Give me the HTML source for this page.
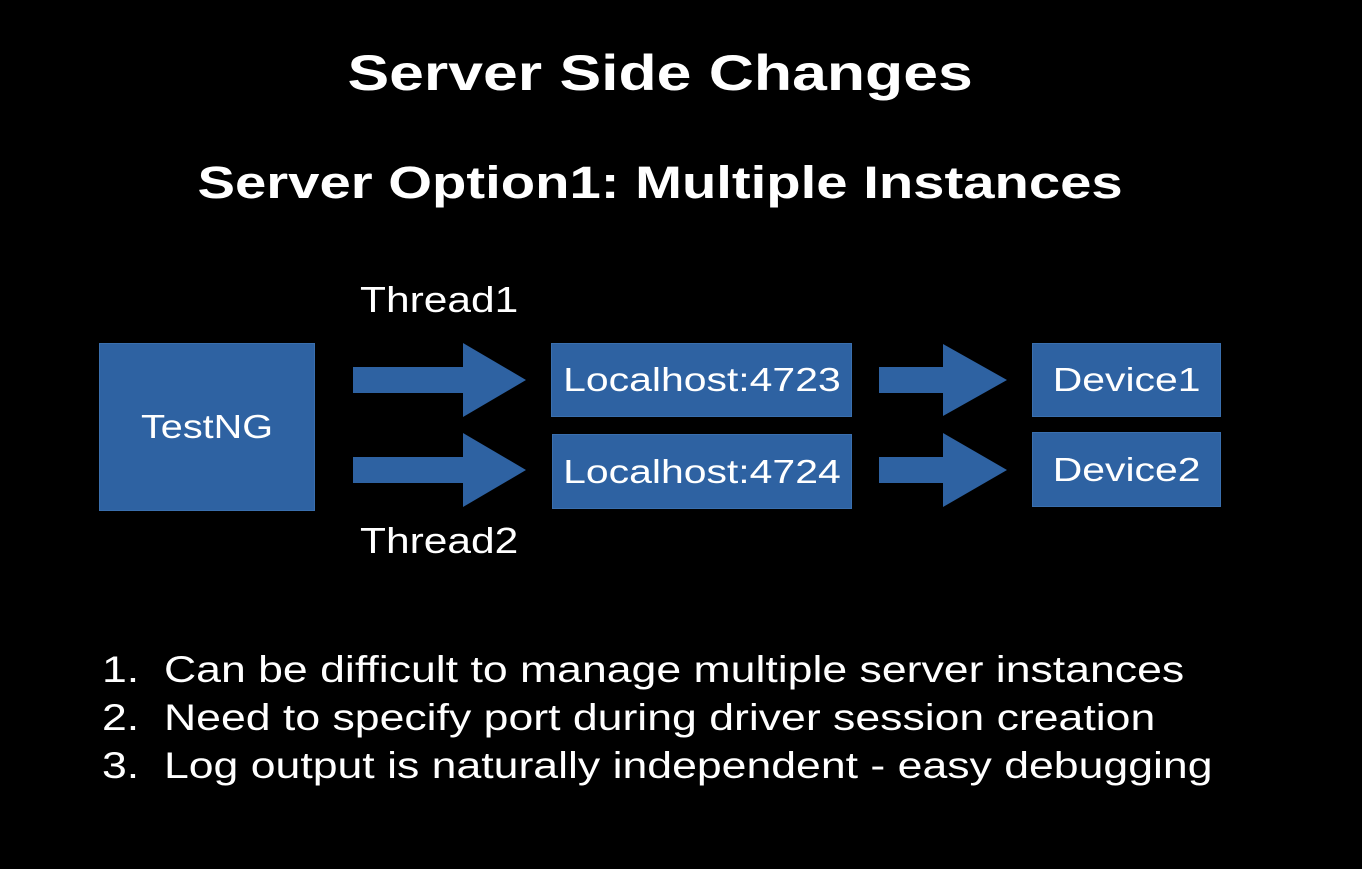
<!DOCTYPE html>
<html><head><style>
body{margin:0;width:1362px;height:869px;background:#000;position:relative;overflow:hidden;font-family:"Liberation Sans",sans-serif;color:#fff}
.t{position:absolute;white-space:nowrap}
.b{position:absolute;background:#2e62a2;box-shadow:0 0 0 1px #3a6fae;display:flex;align-items:center;justify-content:center;font-size:33px;color:#fff}
.s{display:inline-block;transform:scaleX(1.24)}
</style></head><body>
<div class="t" style="left:0;width:1320px;text-align:center;top:44px;font-size:50px;font-weight:bold"><span class="s" style="transform:scaleX(1.25)">Server Side Changes</span></div>
<div class="t" style="left:0;width:1320px;text-align:center;top:157px;font-size:45px;font-weight:bold"><span class="s" style="transform:scaleX(1.25)">Server Option1: Multiple Instances</span></div>
<div class="t" style="left:360px;top:279px;font-size:36px;transform-origin:0 0;transform:scaleX(1.18)">Thread1</div>
<div class="t" style="left:360px;top:520px;font-size:36px;transform-origin:0 0;transform:scaleX(1.18)">Thread2</div>
<div class="b" style="left:100px;top:344px;width:214px;height:166px"><span class="s" style="transform:scaleX(1.2)">TestNG</span></div>
<div class="b" style="left:552px;top:344px;width:299px;height:72px"><span class="s">Localhost:4723</span></div>
<div class="b" style="left:553px;top:435px;width:298px;height:73px"><span class="s">Localhost:4724</span></div>
<div class="b" style="left:1033px;top:344px;width:187px;height:72px"><span class="s">Device1</span></div>
<div class="b" style="left:1033px;top:433px;width:187px;height:73px"><span class="s">Device2</span></div>
<svg width="1362" height="869" style="position:absolute;left:0;top:0">
<g fill="#2e62a2">
<polygon points="353,367 463,367 463,343 526,380 463,417 463,393 353,393"/>
<polygon points="353,457 463,457 463,433 526,470 463,507 463,483 353,483"/>
<polygon points="879,367 943,367 943,344 1007,380 943,416 943,393 879,393"/>
<polygon points="879,457 943,457 943,433 1007,470 943,507 943,483 879,483"/>
</g></svg>
<div class="t" style="left:102px;top:646px;font-size:37px;line-height:48px;transform-origin:0 0;transform:scaleX(1.205)">1.&nbsp; Can be difficult to manage multiple server instances<br>2.&nbsp; Need to specify port during driver session creation<br>3.&nbsp; Log output is naturally independent - easy debugging</div>
</body></html>
